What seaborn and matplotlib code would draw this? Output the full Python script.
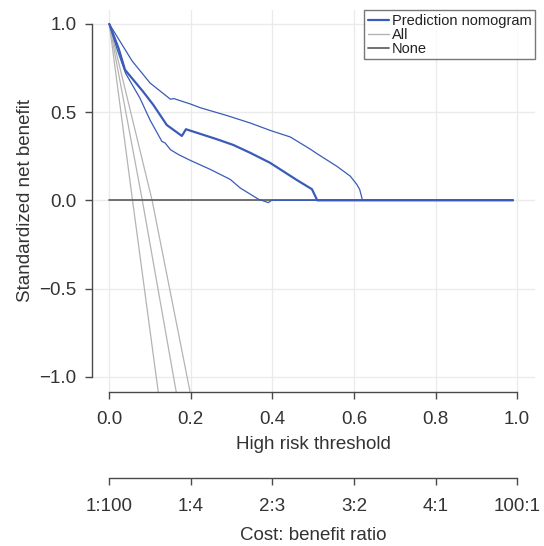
import matplotlib
matplotlib.use("Agg")
import matplotlib.pyplot as plt
import pandas as pd
import seaborn as sns
from matplotlib.lines import Line2D

# Standardized net benefit of the prediction nomogram (point estimate)
thr_est = [0.0, 0.023, 0.0385, 0.083, 0.108, 0.141, 0.178, 0.188, 0.263, 0.304,
           0.345, 0.394, 0.460, 0.497, 0.510, 0.99]
nb_est = [1.0, 0.86, 0.74, 0.616, 0.541, 0.427, 0.365, 0.403, 0.347, 0.314,
          0.270, 0.213, 0.115, 0.063, 0.0, 0.0]

# Lower confidence bound
thr_lo = [0.0, 0.02, 0.04, 0.075, 0.100, 0.129, 0.137, 0.150, 0.170, 0.200,
          0.248, 0.297, 0.321, 0.366, 0.390, 0.398, 0.99]
nb_lo = [1.0, 0.85, 0.72, 0.58, 0.455, 0.334, 0.325, 0.287, 0.259, 0.225,
         0.175, 0.118, 0.070, 0.006, -0.013, 0.0, 0.0]

# Upper confidence bound
thr_hi = [0.0, 0.056, 0.100, 0.150, 0.158, 0.199, 0.223, 0.288, 0.346, 0.395,
          0.444, 0.493, 0.509, 0.558, 0.591, 0.607, 0.614, 0.621, 0.99]
nb_hi = [1.0, 0.79, 0.665, 0.573, 0.577, 0.546, 0.525, 0.481, 0.438, 0.396,
         0.359, 0.290, 0.265, 0.193, 0.137, 0.090, 0.062, 0.0, 0.0]

# Treat-all strategy (estimate and its interval)
all_thr_1 = [0.0, 0.057, 0.120]
all_nb_1 = [1.0, 0.0, -1.085]
all_thr_2 = [0.0, 0.081, 0.164]
all_nb_2 = [1.0, 0.0, -1.085]
all_thr_3 = [0.0, 0.105, 0.198]
all_nb_3 = [1.0, 0.0, -1.085]

# Treat-none strategy
none_thr = [0.0, 0.99]
none_nb = [0.0, 0.0]

x_ticks = [0.0, 0.2, 0.4, 0.6, 0.8, 1.0]
x_tick_labels = ["0.0", "0.2", "0.4", "0.6", "0.8", "1.0"]
y_ticks = [-1.0, -0.5, 0.0, 0.5, 1.0]
cost_benefit_labels = ["1:100", "1:4", "2:3", "3:2", "4:1", "100:1"]

BLUE = "#3a5bb8"
LIGHT_GREY = "#b4b4b4"
DARK_GREY = "#666666"
AXIS_GREY = "#4a4a4a"
TEXT = "#333333"

sns.set_style("white")
plt.rcParams["font.family"] = ["Liberation Sans", "DejaVu Sans"]

fig = plt.figure(figsize=(5.44, 5.46), dpi=100)
ax = fig.add_axes([92 / 544, 1 - 391.7 / 546, (535 - 92) / 544, (391.7 - 10) / 546])

ax.grid(True, color="#ebebeb", linewidth=1.0)
ax.set_axisbelow(True)

for tx, ty in [(all_thr_1, all_nb_1), (all_thr_2, all_nb_2), (all_thr_3, all_nb_3)]:
    sns.lineplot(x=tx, y=ty, ax=ax, color=LIGHT_GREY, linewidth=0.9, sort=False,
                 estimator=None)

sns.lineplot(x=none_thr, y=none_nb, ax=ax, color=DARK_GREY, linewidth=1.3,
             estimator=None)

for tx, ty, lw in [(thr_lo, nb_lo, 0.9), (thr_hi, nb_hi, 0.9), (thr_est, nb_est, 1.6)]:
    sns.lineplot(x=tx, y=ty, ax=ax, color=BLUE, linewidth=lw, sort=False,
                 estimator=None)

ax.set_xlim(-0.0424, 1.044)
ax.set_ylim(-1.085, 1.079)

sns.despine(ax=ax)
for side in ("left", "bottom"):
    ax.spines[side].set_color(AXIS_GREY)
    ax.spines[side].set_linewidth(1.0)
ax.spines["left"].set_bounds(-1.0, 1.0)
ax.spines["bottom"].set_bounds(0.0, 1.0)

ax.set_xticks(x_ticks)
ax.set_xticklabels(x_tick_labels)
ax.set_yticks(y_ticks)
ax.tick_params(axis="both", which="major", direction="out", length=5, width=1.0,
               color=AXIS_GREY, labelsize=13.5, labelcolor=TEXT, bottom=True, left=True)
ax.tick_params(axis="x", pad=9)
ax.tick_params(axis="y", pad=6)

ax.set_xlabel("High risk threshold", fontsize=13.5, color=TEXT, labelpad=6)
ax.set_ylabel("Standardized net benefit", fontsize=13.5, color=TEXT, labelpad=4)

# Cost:benefit ratio axis below the threshold axis
sec = ax.secondary_xaxis(-0.227)
sec.set_xticks(x_ticks)
sec.set_xticklabels(cost_benefit_labels)
sec.spines["bottom"].set_bounds(0.0, 1.0)
sec.spines["bottom"].set_color(AXIS_GREY)
sec.spines["bottom"].set_linewidth(1.0)
sec.tick_params(axis="x", direction="out", length=5, width=1.0, color=AXIS_GREY,
                labelsize=13.5, labelcolor=TEXT, pad=9, bottom=True)
sec.set_xlabel("Cost: benefit ratio", fontsize=13.5, color=TEXT, labelpad=9)

handles = [Line2D([], [], color=BLUE, linewidth=1.6),
           Line2D([], [], color=LIGHT_GREY, linewidth=1.0),
           Line2D([], [], color=DARK_GREY, linewidth=1.3)]
leg = ax.legend(handles, ["Prediction nomogram", "All", "None"], loc="upper right",
                bbox_to_anchor=(1.0, 1.0), borderaxespad=0.0, fontsize=10.5,
                frameon=True, fancybox=False, borderpad=0.25, labelspacing=0.0,
                handlelength=1.5, handletextpad=0.15)
leg.get_frame().set_edgecolor("#555555")
leg.get_frame().set_linewidth(1.0)
for t in leg.get_texts():
    t.set_color("#222222")

fig.savefig("out.png", dpi=100)
